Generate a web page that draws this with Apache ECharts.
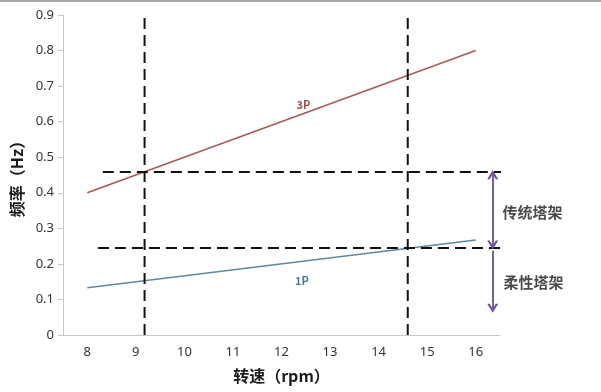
<!DOCTYPE html>
<html>
<head>
<meta charset="utf-8">
<script src="https://cdn.jsdelivr.net/npm/echarts@6/dist/echarts.min.js"></script>
<style>
html,body{margin:0;padding:0;background:#fff;}
#main{width:601px;height:392px;}
</style>
</head>
<body>
<div id="main"></div>
<script>
// ---- data ----
const xTickLabels = [8, 9, 10, 11, 12, 13, 14, 15, 16];
const yTickLabels = [0, 0.1, 0.2, 0.3, 0.4, 0.5, 0.6, 0.7, 0.8, 0.9];
const rpm3P = [8, 16];
const freq3P = [0.4, 0.8];
const rpm1P = [8, 16];
const freq1P = [0.133, 0.267];
const rpmMarks = [9.18, 14.6];          // vertical dashed lines
const freqLevels = [0.4585, 0.245];     // horizontal dashed lines
const levelStarts = [8.32, 8.22];
const levelEnd = 16.61;
const arrowRpm = 16.35;
const arrowBottom = 0.075;
const annoTexts = ['3P', '1P', '传统塔架', '柔性塔架'];
const annoRpm = [12.45, 12.42, 17.17, 17.19];
const annoFreq = [0.647, 0.152, 0.346, 0.149];
const annoColors = ['#8b1f1f', '#1a5570', '#1a1a1a', '#1a1a1a'];

const chart = echarts.init(document.getElementById('main'));
const cjk = '"Noto Sans CJK SC", "Noto Sans", sans-serif';
const dashBlack = {color: '#111', width: 2, type: [11, 6]};
const chevron = 'path://M0,10 L5,0 L10,10 L7.8,10 L5,4.4 L2.2,10 Z';

const series = [
  {
    name: '3P', type: 'line', data: rpm3P.map((r, i) => [r, freq3P[i]]),
    symbol: 'none', lineStyle: {color: '#a85a5a', width: 1.6}, z: 3
  },
  {
    name: '1P', type: 'line', data: rpm1P.map((r, i) => [r, freq1P[i]]),
    symbol: 'none', lineStyle: {color: '#5a8aa3', width: 1.6}, z: 3
  }
];
rpmMarks.forEach(r => series.push({
  type: 'line', data: [[r, 0], [r, yTickLabels[yTickLabels.length - 1]]],
  symbol: 'none', lineStyle: dashBlack, z: 4, clip: false
}));
freqLevels.forEach((f, i) => series.push({
  type: 'line', data: [[levelStarts[i], f], [levelEnd, f]],
  symbol: 'none', lineStyle: dashBlack, z: 4, clip: false
}));
// arrows
series.push({
  type: 'line', data: [], clip: false,
  markLine: {
    silent: true, symbolSize: [11, 9], animation: false,
    lineStyle: {color: '#6a4e9a', width: 1.8, type: 'solid'},
    label: {show: false},
    data: [
      [{coord: [arrowRpm, freqLevels[0] - 0.008], symbol: chevron}, {coord: [arrowRpm, freqLevels[1] + 0.008], symbol: chevron}],
      [{coord: [arrowRpm, freqLevels[1] - 0.008], symbol: 'none'}, {coord: [arrowRpm, arrowBottom], symbol: chevron}]
    ]
  }
});
// text annotations
series.push({
  type: 'scatter', clip: false, symbolSize: 0, silent: true,
  data: annoTexts.map((t, i) => ({
    value: [annoRpm[i], annoFreq[i]],
    label: {
      show: true, position: 'inside', formatter: t,
      color: annoColors[i], fontFamily: cjk, fontWeight: 'bold',
      fontSize: i < 2 ? 11 : 15
    }
  })),
  z: 5
});

chart.setOption({
  animation: false,
  backgroundColor: '#fff',
  grid: {left: 63, right: 101, top: 15, bottom: 57, containLabel: false, outerBoundsMode: 'none'},
  xAxis: {
    type: 'value', min: 7.5, max: 16.5,
    name: '转速（rpm）', nameLocation: 'middle', nameGap: 33,
    nameTextStyle: {fontFamily: cjk, fontWeight: 'bold', fontSize: 16, color: '#1a1a1a'},
    axisLine: {show: true, lineStyle: {color: '#c8c8c8', width: 1}},
    axisTick: {show: false},
    splitLine: {show: false},
    axisLabel: {customValues: xTickLabels, color: '#333', fontSize: 13, margin: 11, fontFamily: '"Noto Sans", sans-serif'}
  },
  yAxis: {
    type: 'value', min: 0, max: 0.9, interval: 0.1,
    name: '频率（Hz）', nameLocation: 'middle', nameGap: 37,
    nameTextStyle: {fontFamily: cjk, fontWeight: 'bold', fontSize: 16, color: '#1a1a1a'},
    axisLine: {show: true, lineStyle: {color: '#c8c8c8', width: 1}},
    axisTick: {show: true, length: 5, lineStyle: {color: '#c8c8c8'}},
    splitLine: {show: false},
    axisLabel: {
      color: '#333', fontSize: 13, margin: 9, fontFamily: '"Noto Sans", sans-serif',
      formatter: v => String(Math.round(v * 10) / 10)
    }
  },
  graphic: [{type: 'rect', shape: {x: 0, y: 0, width: 601, height: 2}, style: {fill: '#a8a8a8'}, silent: true}],
  series: series
});
</script>
</body>
</html>
